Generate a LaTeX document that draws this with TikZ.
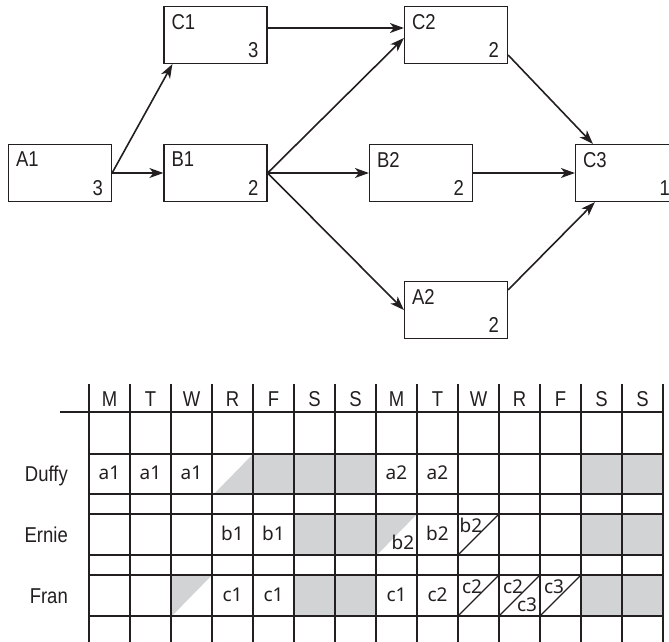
\documentclass[tikz,border=0pt]{standalone}
\usepackage{fontspec}
\setmainfont[FakeStretch=0.86]{Liberation Sans}
\newfontfamily\hand{Noto Sans}
\usetikzlibrary{arrows.meta,calc}
\definecolor{greyfill}{RGB}{209,211,212}
\definecolor{ink}{RGB}{35,31,32}
\begin{document}
\begin{tikzpicture}[x=1pt,y=-1pt,
  task/.style={draw=ink,line width=1.2pt,minimum width=103pt,minimum height=57pt,inner sep=0pt},
  lbl/.style={font=\fontsize{21.5}{24}\selectfont,text=ink,inner sep=0pt},
  flow/.style={draw=ink,line width=1.6pt,-{Stealth[length=14pt,width=10pt,inset=4pt]}},
  gridline/.style={draw=ink,line width=1.4pt},
  hw/.style={font=\hand\fontsize{19}{20}\selectfont,text=ink,inner sep=0pt},
  day/.style={font=\fontsize{21.5}{24}\selectfont,text=ink,inner sep=0pt},
]
\useasboundingbox (0,0) rectangle (669,642);
% ---------- network ----------
\node[task] (c1) at (215.5,35) {};
\node[task] (a1) at (60,173) {};
\node[task] (b1) at (215.5,173) {};
\node[task] (c2) at (456,35) {};
\node[task] (b2) at (421,173) {};
\node[task] (c3) at (627,173) {};
\node[task] (a2) at (456,310) {};
\foreach \n/\t/\d in {c1/C1/3,a1/A1/3,b1/B1/2,c2/C2/2,b2/B2/2,c3/C3/1,a2/A2/2}{
  \node[lbl,anchor=north west] (\n-name) at ($(\n.north west)+(8,8)$) {\t};
  \node[lbl,anchor=base east] (\n-dur) at ($(\n.south east)+(-9,-7)$) {\d};
}
\coordinate (c1in) at ($(c1.south west)+(9,0)$);
\coordinate (c1out) at ($(c1.east)+(0,-7)$);
\coordinate (c2in1) at ($(c2.west)+(0,-7)$);
\coordinate (c2in2) at ($(c2.west)+(0,3)$);
\coordinate (c2out) at ($(c2.east)+(0,20)$);
\coordinate (c3in1) at ($(c3.north west)+(18,0)$);
\coordinate (c3in3) at ($(c3.south west)+(20,0)$);
\coordinate (a2out) at ($(a2.north east)+(0,9)$);
\draw[flow] (a1.east) -- (b1.west);
\draw[flow] (a1.east) -- (c1in);
\draw[flow] (c1out) -- (c2in1);
\draw[flow] (b1.east) -- (c2in2);
\draw[flow] (b1.east) -- (b2.west);
\draw[flow] (b1.east) -- (a2.west);
\draw[flow] (c2out) -- (c3in1);
\draw[flow] (b2.east) -- (c3.west);
\draw[flow] (a2out) -- (c3in3);
% ---------- schedule ----------
\foreach \top/\h/\cols in {454/40/{4,5,6,12,13},514/41/{5,6,12,13},575/41/{5,6,12,13}}{
  \foreach \c in \cols {
    \fill[greyfill] (89+41*\c,\top) rectangle ++(41,\h);
  }
}
\fill[greyfill] (214,494) -- (253,454) -- (253,494) -- cycle; % Duffy R
\fill[greyfill] (376,514) -- (417,514) -- (377,555) -- cycle;  % Ernie M
\fill[greyfill] (171,575) -- (212,575) -- (172,616) -- cycle;  % Fran W
% grid
\draw[gridline] (60,412) -- (663,412);
\foreach \yy in {454,494,514,555,575,616}{
  \draw[gridline] (89,\yy) -- (663,\yy);
}
\foreach \i in {0,...,14}{
  \draw[gridline] (89+41*\i,384) -- (89+41*\i,642);
}
% diagonals
\draw[gridline,line width=1.1pt] (458,555) -- (499,514);
\draw[gridline,line width=1.1pt] (458,616) -- (499,575);
\draw[gridline,line width=1.1pt] (499,616) -- (540,575);
\draw[gridline,line width=1.1pt] (540,616) -- (581,575);
% day headings
\foreach \d [count=\k from 0] in {M,T,W,R,F,S,S,M,T,W,R,F,S,S}{
  \node[day] (day\k) at (109.5+41*\k,399) {\d};
}
% people
\node[day,anchor=base east] (duffy) at (68,481.5) {Duffy};
\node[day,anchor=base east] (ernie) at (68,542) {Ernie};
\node[day,anchor=base east] (fran) at (68,603) {Fran};
% handwritten entries
\foreach \c/\t in {0/a1,1/a1,2/a1,7/a2,8/a2}{
  \node[hw] at (109.5+41*\c,473) {\t};
}
\foreach \c/\t in {3/b1,4/b1,8/b2}{
  \node[hw] at (109.5+41*\c,533.5) {\t};
}
\foreach \c/\t in {3/c1,4/c1,7/c1,8/c2}{
  \node[hw] at (109.5+41*\c,595) {\t};
}
\node[hw] at (403,542) {b2};
\node[hw] at (471,525) {b2};
\node[hw] at (472,587) {c2};
\node[hw] at (513,587) {c2};
\node[hw] at (527,605) {c3};
\node[hw] at (554,587) {c3};
\end{tikzpicture}
\end{document}
